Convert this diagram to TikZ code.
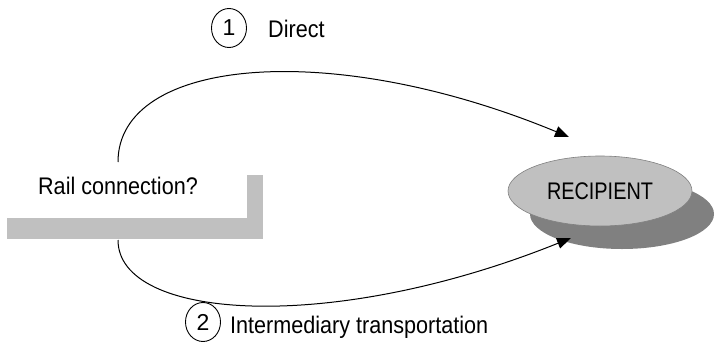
\documentclass[tikz,border=0pt]{standalone}
\usepackage{fontspec}
\setmainfont{Liberation Sans}
\usetikzlibrary{arrows.meta,shapes.geometric}
\definecolor{lgray}{HTML}{C0C0C0}
\definecolor{dgray}{HTML}{808080}
\tikzset{
  lbl/.style={font=\fontsize{24}{28}\selectfont, inner sep=0pt, xscale=0.9},
  numcirc/.style={draw, ellipse, minimum width=35pt, minimum height=39pt, inner sep=0pt, font=\fontsize{23}{26}\selectfont, line width=0.9pt},
  conn/.style={line width=1pt, -{Triangle[length=14pt,width=11pt]}},
}
\begin{document}
\begin{tikzpicture}[x=1pt,y=-1pt]
\useasboundingbox (0,0) rectangle (716,357);
% rail connection box with shadow
\fill[lgray] (7,175) rectangle (263,239);
\fill[white] (0,154) rectangle (247,218);
\node[lbl] (rail) at (118,186) {Rail connection?};
\coordinate (railtop) at (118,162);
\coordinate (railbot) at (118,240);
% recipient
\fill[dgray] (622,214) ellipse [x radius=92, y radius=35];
\node[ellipse, draw=dgray, fill=lgray, minimum width=184pt, minimum height=70pt, inner sep=0pt, line width=0.6pt] (rec) at (600,191) {};
\node[lbl, xscale=0.92] (rectext) at (rec.center) {RECIPIENT};
\coordinate (tipA) at (569,137);
\coordinate (tipB) at (571,238);
% connectors
\draw[conn] (railtop) .. controls (118,58) and (330,38) .. (tipA);
\draw[conn] (railbot) .. controls (118,320) and (330,335) .. (tipB);
% labels
\node[numcirc] (c1) at (229,28) {1};
\node[lbl, anchor=west] (direct) at (268,29) {Direct};
\node[numcirc] (c2) at (203,322) {2};
\node[lbl, anchor=west] (inter) at (230,327) {Intermediary transportation};
\end{tikzpicture}
\end{document}
